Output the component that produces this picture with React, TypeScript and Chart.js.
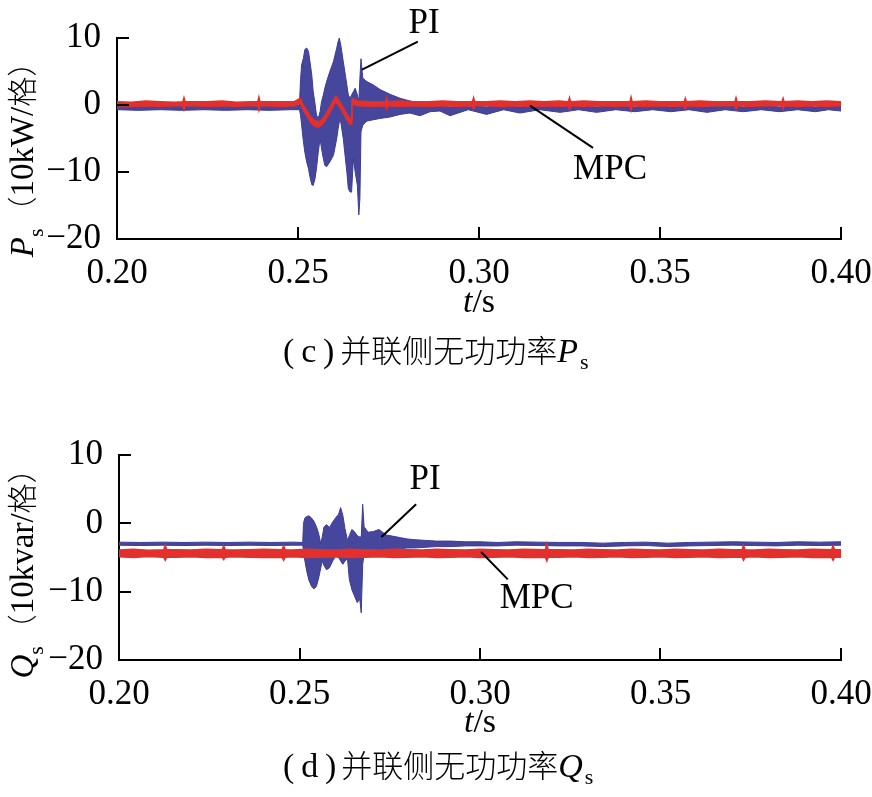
import React, { useEffect, useRef } from "react";
import { Chart, registerables } from "chart.js";

Chart.register(...registerables);

// ---------- axis ticks ----------
const X_MIN = 0.2;
const X_MAX = 0.4;
const X_STEP = 0.05;
const Y_MIN = -20;
const Y_MAX = 10;
const Y_STEP = 10;

// ---------- (c) Ps : PI envelope (upper / lower) ----------
const P_PI_T = [
  0.200, 0.206, 0.212, 0.218, 0.224, 0.230, 0.236, 0.242, 0.248, 0.2504,
  0.2507, 0.2510, 0.2515, 0.2519, 0.2524, 0.2529, 0.2533, 0.2538, 0.2542, 0.2547,
  0.2551, 0.2556, 0.2561, 0.2565, 0.2570, 0.2574, 0.2579, 0.2588, 0.2598, 0.2607,
  0.2611, 0.2614, 0.2618, 0.2625, 0.2635, 0.2639, 0.2644, 0.2648, 0.2653, 0.2658,
  0.2664, 0.2668, 0.2671, 0.2674, 0.2679, 0.2690, 0.2708, 0.2727, 0.2754, 0.2782,
  0.2809, 0.2837, 0.2865, 0.2892,
  0.2920, 0.2970, 0.3021, 0.3068, 0.3113, 0.3168, 0.3224, 0.3275, 0.3325, 0.3378,
  0.3430, 0.3480, 0.3530, 0.3580, 0.3630, 0.3680, 0.3730, 0.3780, 0.3830, 0.3880,
  0.3930, 0.3965, 0.4000,
];
const P_PI_HI = [
  -0.1, 0.0, -0.1, 0.0, -0.1, 0.0, -0.1, 0.0, -0.1, 0.0,
  3.8, 6.0, 7.0, 8.3, 8.5, 8.0, 6.5, 4.5, 2.0, 0.2,
  -1.5, -2.0, -1.0, 0.5, 1.5, 2.5, 3.5, 5.0, 6.5, 8.5,
  9.5, 10.0, 9.0, 6.5, 3.0, 1.5, 1.0, 1.5, 2.0, 2.5,
  1.5, 0.5, 4.0, 6.9, 4.0, 3.5, 3.0, 2.3, 1.6, 1.0,
  0.6, 0.3, 0.1, -0.1,
  -0.3, 0.0, -0.3, 0.0, -0.3, 0.0, -0.3, 0.0, -0.3, 0.0,
  -0.3, 0.0, -0.3, 0.0, -0.3, 0.0, -0.3, 0.0, -0.3, 0.0,
  -0.3, 0.0, -0.2,
];
const P_PI_LO = [
  -0.7, -0.8, -0.7, -0.8, -0.7, -0.8, -0.7, -0.8, -0.7, -0.7,
  -1.5, -3.0, -5.5, -7.1, -8.5, -9.5, -10.7, -11.9, -12.0, -11.0,
  -9.5, -7.0, -5.0, -6.5, -8.0, -9.0, -9.2, -8.5, -7.5, -5.0,
  -3.5, -2.5, -2.5, -5.0, -10.0, -12.5, -13.0, -13.0, -8.0, -10.0,
  -12.0, -16.4, -14.0, -4.0, -3.0, -2.4, -2.2, -2.0, -1.8, -1.4,
  -1.2, -1.6, -1.0, -0.9,
  -1.6, -0.7, -1.4, -0.7, -1.2, -0.7, -1.1, -0.7, -1.1, -0.7,
  -1.0, -0.7, -1.0, -0.7, -1.1, -0.7, -1.0, -0.7, -1.0, -0.7,
  -1.0, -0.7, -0.9,
];

// ---------- (c) Ps : MPC envelope ----------
const P_MPC_T = [
  0.200, 0.204, 0.208, 0.212, 0.216, 0.2182, 0.2185, 0.2188, 0.221, 0.225,
  0.229, 0.233, 0.237, 0.2389, 0.2392, 0.2395, 0.241, 0.245, 0.249, 0.2506,
  0.2515, 0.2524, 0.2535, 0.2545, 0.2556, 0.2565, 0.2575, 0.2588, 0.2596, 0.2604,
  0.2612, 0.2624, 0.2634, 0.2644, 0.2647, 0.2649, 0.2655, 0.2665,
  0.270, 0.2742, 0.2745, 0.2748, 0.278, 0.282, 0.286, 0.290, 0.294, 0.2982,
  0.2985, 0.2988, 0.302, 0.306, 0.310, 0.314, 0.318, 0.322, 0.3247, 0.325,
  0.3253, 0.329, 0.333, 0.337, 0.3417, 0.342, 0.3423, 0.346, 0.350, 0.354,
  0.3567, 0.357, 0.3573, 0.361, 0.365, 0.3707, 0.371, 0.3713, 0.375, 0.379,
  0.3837, 0.384, 0.3843, 0.388, 0.392, 0.396, 0.400,
];
const P_MPC_HI = [
  0.5, 0.4, 0.6, 0.5, 0.4, 0.5, 1.1, 0.5, 0.5, 0.5,
  0.6, 0.4, 0.5, 0.5, 1.2, 0.5, 0.5, 0.5, 0.5, 1.0,
  0.0, -0.8, -1.8, -2.3, -2.5, -2.3, -1.5, -0.3, 0.5, 1.3,
  0.8, -0.3, -1.3, -2.1, -2.0, 1.0, 0.8, 0.6,
  0.5, 0.5, 1.1, 0.5, 0.6, 0.5, 0.5, 0.6, 0.5, 0.5,
  1.1, 0.5, 0.5, 0.6, 0.5, 0.6, 0.5, 0.6, 0.5, 1.1,
  0.5, 0.6, 0.5, 0.5, 0.5, 1.2, 0.5, 0.6, 0.5, 0.5,
  0.5, 1.0, 0.5, 0.6, 0.5, 0.5, 1.1, 0.5, 0.5, 0.6,
  0.5, 1.0, 0.5, 0.6, 0.5, 0.6, 0.5,
];
const P_MPC_LO = [
  -0.1, -0.2, -0.1, -0.2, -0.1, -0.1, -0.7, -0.1, -0.1, -0.2,
  -0.1, -0.2, -0.1, -0.1, -0.8, -0.1, -0.1, -0.2, -0.1, 0.3,
  -0.8, -1.6, -2.6, -3.1, -3.3, -3.0, -2.3, -1.1, -0.3, 0.5,
  0.0, -1.1, -2.1, -2.9, -2.8, 0.2, 0.0, -0.1,
  -0.2, -0.1, -0.6, -0.1, -0.2, -0.1, -0.2, -0.1, -0.2, -0.1,
  -0.6, -0.1, -0.1, -0.2, -0.1, -0.2, -0.1, -0.2, -0.1, -0.7,
  -0.1, -0.2, -0.1, -0.2, -0.1, -0.8, -0.1, -0.2, -0.1, -0.2,
  -0.1, -0.6, -0.1, -0.2, -0.1, -0.1, -0.6, -0.1, -0.2, -0.1,
  -0.1, -0.6, -0.1, -0.2, -0.1, -0.2, -0.1,
];

// ---------- (d) Qs : PI envelope ----------
const Q_PI_T = [
  0.200, 0.206, 0.212, 0.218, 0.224, 0.230, 0.236, 0.242, 0.248, 0.2509,
  0.2511, 0.2515, 0.2520, 0.2526, 0.2533, 0.2540, 0.2547, 0.2553, 0.2559, 0.2563,
  0.2568, 0.2575, 0.2583, 0.2592, 0.2600, 0.2608, 0.2614, 0.2620, 0.2626, 0.2633,
  0.2638, 0.2645, 0.2652, 0.2660, 0.2667, 0.2671, 0.2675, 0.2679, 0.2690, 0.2705,
  0.2720, 0.2740, 0.2760, 0.2780, 0.2800, 0.2820, 0.2850, 0.2880, 0.2920, 0.2960,
  0.3000, 0.3050,
  0.310, 0.316, 0.322, 0.328, 0.334, 0.340, 0.346, 0.352, 0.358, 0.364,
  0.370, 0.376, 0.382, 0.388, 0.394, 0.400,
];
const Q_PI_HI = [
  -2.75, -2.8, -2.75, -2.8, -2.75, -2.8, -2.75, -2.8, -2.75, -2.8,
  0.0, 0.8, 1.0, 1.1, 0.8, 0.3, -0.5, -1.5, -3.0, -2.0,
  -0.5, -0.2, -0.6, 0.2, 0.8, 1.3, 2.3, 1.2, -0.8, -2.5,
  -1.8, -0.9, -1.2, -1.8, -2.0, -2.0, 2.8, -0.5, -1.3, -1.2,
  -0.9, -1.7, -1.9, -2.1, -2.3, -2.4, -2.5, -2.6, -2.6, -2.7,
  -2.7, -2.8,
  -2.7, -2.75, -2.8, -2.8, -2.9, -2.8, -2.75, -2.9, -2.8, -2.75,
  -2.7, -2.75, -2.8, -2.7, -2.75, -2.7,
];
const Q_PI_LO = [
  -3.2, -3.25, -3.2, -3.25, -3.2, -3.25, -3.2, -3.25, -3.2, -3.2,
  -4.0, -5.5, -7.0, -8.3, -9.2, -9.6, -9.2, -8.0, -6.5, -5.5,
  -6.2, -6.8, -6.5, -5.5, -4.8, -5.0, -5.5, -6.0, -5.5, -5.2,
  -8.2, -9.7, -10.6, -11.6, -11.1, -13.1, -6.0, -4.5, -4.2, -4.0,
  -3.9, -3.9, -3.8, -3.7, -3.6, -3.6, -3.5, -3.4, -3.4, -3.3,
  -3.3, -3.3,
  -3.2, -3.25, -3.3, -3.3, -3.4, -3.3, -3.25, -3.4, -3.3, -3.25,
  -3.2, -3.25, -3.3, -3.2, -3.25, -3.2,
];

// ---------- (d) Qs : MPC envelope ----------
const Q_MPC_T = [
  0.200, 0.204, 0.208, 0.2124, 0.2128, 0.2132, 0.216, 0.220, 0.224, 0.2286,
  0.229, 0.2294, 0.232, 0.236, 0.240, 0.2452, 0.2456, 0.246, 0.248, 0.252,
  0.256, 0.260, 0.264, 0.268, 0.272, 0.276, 0.280, 0.284, 0.288, 0.292,
  0.296, 0.300, 0.304, 0.308, 0.312, 0.3181, 0.3185, 0.3189, 0.322, 0.326,
  0.330, 0.334, 0.338, 0.342, 0.346, 0.350, 0.354, 0.358, 0.362, 0.366,
  0.370, 0.3726, 0.373, 0.3734, 0.376, 0.380, 0.384, 0.388, 0.392, 0.3974,
  0.3978, 0.3982, 0.400,
];
const Q_MPC_HI = [
  -3.9, -3.8, -3.95, -3.85, -3.2, -3.85, -3.85, -3.9, -3.8, -3.85,
  -3.3, -3.85, -3.9, -3.85, -3.8, -3.85, -3.3, -3.85, -3.9, -3.8,
  -3.85, -3.9, -3.8, -3.85, -3.9, -3.8, -3.85, -3.9, -3.8, -3.85,
  -3.9, -3.8, -3.85, -3.9, -3.8, -3.85, -3.0, -3.85, -3.85, -3.9,
  -3.8, -3.85, -3.9, -3.8, -3.85, -3.9, -3.8, -3.85, -3.9, -3.8,
  -3.85, -3.85, -3.2, -3.85, -3.9, -3.8, -3.85, -3.9, -3.8, -3.85,
  -3.3, -3.85, -3.85,
];
const Q_MPC_LO = [
  -4.9, -5.0, -4.85, -4.95, -5.4, -4.95, -4.95, -4.9, -5.0, -4.95,
  -5.3, -4.95, -4.9, -4.95, -5.0, -4.95, -5.4, -4.95, -4.9, -5.0,
  -4.95, -4.9, -5.0, -4.95, -4.9, -5.0, -4.95, -4.9, -5.0, -4.95,
  -4.9, -5.0, -4.95, -4.9, -5.0, -4.95, -5.5, -4.95, -4.95, -4.9,
  -5.0, -4.95, -4.9, -5.0, -4.95, -4.9, -5.0, -4.95, -4.9, -5.0,
  -4.95, -4.95, -5.4, -4.95, -4.9, -5.0, -4.95, -4.9, -5.0, -4.95,
  -5.4, -4.95, -4.95,
];

// ---------- styles ----------
const SERIF = '"Liberation Serif", "Times New Roman", Times, serif';
const CJK = '"Noto Sans CJK SC", "Noto Sans CJK JP", sans-serif';
const BLUE = "#3c3c96";
const BLUE_FILL = "#46469c";
const RED = "#e3302c";

type Run = { text: string; font: string; dy?: number; gap?: number };

function drawRuns(ctx: CanvasRenderingContext2D, runs: Run[], x: number, y: number, center: boolean) {
  let total = 0;
  for (const r of runs) {
    ctx.font = r.font;
    total += ctx.measureText(r.text).width + (r.gap || 0);
  }
  let cx = center ? x - total / 2 : x;
  for (const r of runs) {
    ctx.font = r.font;
    ctx.fillText(r.text, cx, y + (r.dy || 0));
    cx += ctx.measureText(r.text).width + (r.gap || 0);
  }
}

function makeDecor(p: any) {
  return {
    id: "panelDecor",
    afterDraw(chart: any) {
      const ctx: CanvasRenderingContext2D = chart.ctx;
      const a = chart.chartArea;
      const xs = chart.scales.x;
      const ys = chart.scales.y;
      ctx.save();
      ctx.strokeStyle = "#000";
      ctx.fillStyle = "#000";
      ctx.lineWidth = 2;
      // inward tick marks
      ctx.beginPath();
      xs.ticks.forEach((t: any) => {
        const x = Math.round(xs.getPixelForValue(t.value));
        ctx.moveTo(x, a.bottom);
        ctx.lineTo(x, a.bottom - 12);
      });
      ys.ticks.forEach((t: any) => {
        const y = Math.round(ys.getPixelForValue(t.value));
        ctx.moveTo(a.left, y);
        ctx.lineTo(a.left + 12, y);
      });
      ctx.stroke();

      // annotations
      for (const ann of p.annotations) {
        ctx.beginPath();
        ctx.moveTo(xs.getPixelForValue(ann.from[0]), ys.getPixelForValue(ann.from[1]));
        ctx.lineTo(xs.getPixelForValue(ann.to[0]), ys.getPixelForValue(ann.to[1]));
        ctx.lineWidth = 2;
        ctx.stroke();
        ctx.font = `35px ${SERIF}`;
        ctx.textAlign = "center";
        ctx.textBaseline = "middle";
        ctx.fillText(ann.label, xs.getPixelForValue(ann.at[0]), ys.getPixelForValue(ann.at[1]));
      }

      ctx.textAlign = "left";
      ctx.textBaseline = "alphabetic";

      // y-axis title (rotated)
      ctx.save();
      ctx.translate(0, p.yTitleCenter);
      ctx.rotate(-Math.PI / 2);
      drawRuns(ctx, p.yTitle, 0, p.yTitleBaseline, true);
      ctx.restore();

      // x-axis title
      drawRuns(
        ctx,
        [
          { text: "t", font: `italic 34px ${SERIF}` },
          { text: "/s", font: `34px ${SERIF}` },
        ],
        xs.getPixelForValue(0.3),
        a.bottom + p.xTitleOffset,
        true
      );

      // caption
      drawRuns(ctx, p.caption, p.captionX, a.bottom + p.captionOffset, false);
      ctx.restore();
    },
  };
}

function band(t: number[], v: number[]) {
  return t.map((x, i) => ({ x, y: v[i] }));
}

function Panel(props: any) {
  const ref = useRef<HTMLCanvasElement | null>(null);
  const p = props.cfg;
  useEffect(() => {
    const canvas = ref.current;
    if (!canvas) return;
    const chart = new Chart(canvas, {
      type: "line",
      data: {
        datasets: [
          {
            label: "MPC-lo",
            data: band(p.mpcT, p.mpcLo),
            borderColor: RED,
            borderWidth: p.mpcWidth,
            pointRadius: 0,
            tension: 0,
            fill: false,
          },
          {
            label: "MPC",
            data: band(p.mpcT, p.mpcHi),
            borderColor: RED,
            backgroundColor: RED,
            borderWidth: p.mpcWidth,
            pointRadius: 0,
            tension: 0,
            fill: 0,
          },
          {
            label: "PI-lo",
            data: band(p.piT, p.piLo),
            borderColor: BLUE,
            borderWidth: 1,
            pointRadius: 0,
            tension: 0,
            fill: false,
          },
          {
            label: "PI",
            data: band(p.piT, p.piHi),
            borderColor: BLUE,
            backgroundColor: BLUE_FILL,
            borderWidth: 1,
            pointRadius: 0,
            tension: 0,
            fill: 2,
          },
        ],
      },
      options: {
        responsive: false,
        animation: false,
        devicePixelRatio: 1,
        layout: { padding: { top: p.padTop, right: p.padRight, left: 0, bottom: 0 } },
        plugins: { legend: { display: false }, tooltip: { enabled: false }, title: { display: false } },
        scales: {
          x: {
            type: "linear",
            min: X_MIN,
            max: X_MAX,
            ticks: {
              stepSize: X_STEP,
              color: "#000",
              font: { family: SERIF, size: 35 },
              padding: 14,
              maxRotation: 0,
              callback: (v: any) => Number(v).toFixed(2),
            },
            grid: { drawOnChartArea: false, drawTicks: false },
            border: { display: true, color: "#000", width: 2 },
            afterFit: (s: any) => {
              s.height = p.xAxisHeight;
              s.paddingLeft = 0;
              s.paddingRight = 0;
            },
          },
          y: {
            type: "linear",
            min: Y_MIN,
            max: Y_MAX,
            ticks: {
              stepSize: Y_STEP,
              color: "#000",
              font: { family: SERIF, size: 35 },
              padding: 16,
              callback: (v: any) => (Number(v) < 0 ? "\u2212" + Math.abs(Number(v)) : String(v)),
            },
            grid: { drawOnChartArea: false, drawTicks: false },
            border: { display: true, color: "#000", width: 2 },
            afterFit: (s: any) => {
              s.width = p.yAxisWidth;
              s.paddingTop = 0;
              s.paddingBottom = 0;
            },
          },
        },
      },
      plugins: [makeDecor(p)],
    } as any);
    return () => chart.destroy();
  }, []);
  return (
    <canvas
      ref={ref}
      width={872}
      height={p.height}
      style={{ position: "absolute", left: 0, top: p.top, width: 872, height: p.height, display: "block" }}
    />
  );
}

const PANEL_P = {
  top: 0,
  height: 398,
  padTop: 38,
  padRight: 31,
  yAxisWidth: 117,
  xAxisHeight: 159,
  mpcWidth: 1.5,
  piT: P_PI_T,
  piHi: P_PI_HI,
  piLo: P_PI_LO,
  mpcT: P_MPC_T,
  mpcHi: P_MPC_HI,
  mpcLo: P_MPC_LO,
  yTitleCenter: 152,
  yTitleBaseline: 33,
  yTitle: [
    { text: "P", font: `italic 33px ${SERIF}` },
    { text: "s", font: `22px ${SERIF}`, dy: 10, gap: 2 },
    { text: "\uff08", font: `300 30px ${CJK}` },
    { text: "10kW/", font: `33px ${SERIF}` },
    { text: "格", font: `300 30px ${CJK}` },
    { text: "\uff09", font: `300 30px ${CJK}` },
  ],
  xTitleOffset: 73,
  captionOffset: 123,
  captionX: 283,
  caption: [
    { text: "(\u2009c\u2009)", font: `34px ${SERIF}`, gap: 6 },
    { text: "并联侧无功功率", font: `300 31px ${CJK}` },
    { text: "P", font: `italic 34px ${SERIF}`, gap: 2 },
    { text: "s", font: `22px ${SERIF}`, dy: 7 },
  ],
  annotations: [
    { label: "PI", at: [0.2848, 12.1], from: [0.2831, 9.45], to: [0.2677, 5.27] },
    { label: "MPC", at: [0.3362, -9.7], from: [0.3141, -0.1], to: [0.3315, -6.4] },
  ],
};

const PANEL_Q = {
  top: 398,
  height: 399,
  padTop: 57,
  padRight: 31,
  yAxisWidth: 119,
  xAxisHeight: 137,
  mpcWidth: 1.5,
  piT: Q_PI_T,
  piHi: Q_PI_HI,
  piLo: Q_PI_LO,
  mpcT: Q_MPC_T,
  mpcHi: Q_MPC_HI,
  mpcLo: Q_MPC_LO,
  yTitleCenter: 168,
  yTitleBaseline: 33,
  yTitle: [
    { text: "Q", font: `italic 33px ${SERIF}` },
    { text: "s", font: `22px ${SERIF}`, dy: 10, gap: 2 },
    { text: "\uff08", font: `300 30px ${CJK}` },
    { text: "10kvar/", font: `33px ${SERIF}` },
    { text: "格", font: `300 30px ${CJK}` },
    { text: "\uff09", font: `300 30px ${CJK}` },
  ],
  xTitleOffset: 72,
  captionOffset: 117,
  captionX: 283,
  caption: [
    { text: "(\u2009d\u2009)", font: `34px ${SERIF}`, gap: 5 },
    { text: "并联侧无功功率", font: `300 31px ${CJK}` },
    { text: "Q", font: `italic 34px ${SERIF}`, gap: 2 },
    { text: "s", font: `22px ${SERIF}`, dy: 7 },
  ],
  annotations: [
    { label: "PI", at: [0.2848, 6.4], from: [0.2823, 2.8], to: [0.2727, -2.0] },
    { label: "MPC", at: [0.3157, -11.1], from: [0.3003, -4.2], to: [0.3077, -8.2] },
  ],
};

export default function App() {
  return (
    <div style={{ position: "absolute", left: 0, top: 0, width: 872, height: 797, background: "#fff", overflow: "hidden" }}>
      <Panel cfg={PANEL_P} />
      <Panel cfg={PANEL_Q} />
    </div>
  );
}
